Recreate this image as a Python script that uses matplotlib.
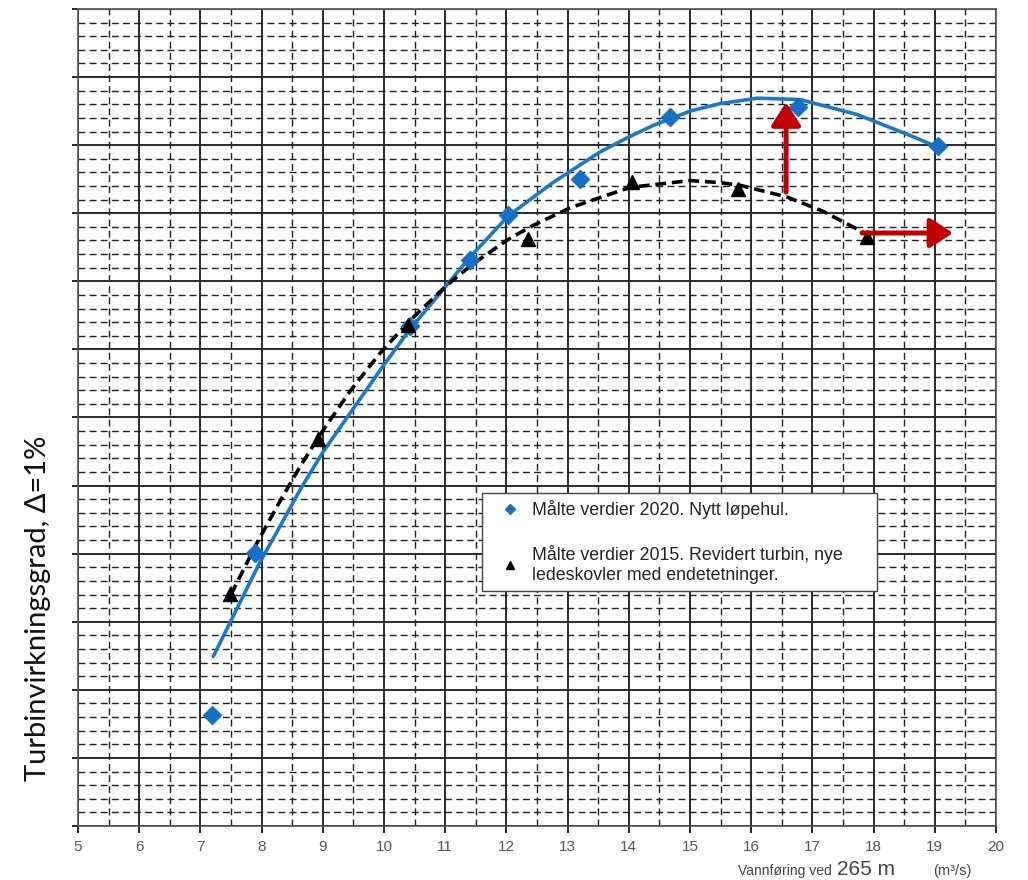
import matplotlib
matplotlib.use("Agg")
import matplotlib.pyplot as plt
from matplotlib.lines import Line2D
import numpy as np

# Målte verdier 2020 (blå)
blue_x = [7.19, 7.89, 10.42, 11.4, 12.03, 13.2, 14.67, 16.76, 19.05]
blue_y = [1.63, 4.01, 7.34, 8.32, 8.97, 9.51, 10.41, 10.56, 9.99]

# Målte verdier 2015 (svart)
black_x = [7.48, 8.92, 10.4, 12.35, 14.05, 15.78, 17.89]
black_y = [3.41, 5.68, 7.36, 8.62, 9.46, 9.35, 8.65]

# trendlinjer lest av bildet
blue_curve_x = [7.21, 7.53, 7.97, 8.3, 8.63, 9.0, 9.49, 9.98, 10.42, 11.4, 12.03,
                12.76, 13.53, 14.0, 14.4, 15.0, 15.49, 16.1, 16.8, 17.73, 18.55, 19.05]
blue_curve_y = [2.49, 3.07, 3.87, 4.4, 4.94, 5.49, 6.12, 6.75, 7.29, 8.35, 8.96,
                9.45, 9.9, 10.12, 10.29, 10.5, 10.61, 10.69, 10.67, 10.45, 10.16, 9.97]
black_curve_x = [7.5, 7.92, 8.3, 8.63, 8.95, 9.44, 9.93, 10.42, 11.0, 11.4, 12.0,
                 12.39, 13.04, 14.02, 15.0, 15.49, 15.82, 16.58, 17.17, 17.83]
black_curve_y = [3.4, 4.15, 4.77, 5.28, 5.74, 6.38, 6.94, 7.42, 7.92, 8.22, 8.6,
                 8.8, 9.08, 9.38, 9.48, 9.45, 9.41, 9.24, 9.03, 8.72]

# røde piler (hale, spiss)
arrow_up = ((16.57, 9.31), (16.57, 10.63))
arrow_right = ((17.81, 8.71), (19.3, 8.71))

x_ticks = list(range(5, 21))

W, H = 1028, 880
fig = plt.figure(figsize=(W / 100, H / 100), dpi=100)
ax = fig.add_axes([78 / W, 1 - 826 / H, 918 / W, 817 / H])

ax.set_xlim(5, 20)
ax.set_ylim(0, 12)
ax.set_xticks(x_ticks)
ax.set_xticks(np.arange(5.5, 20, 1.0), minor=True)
ax.set_yticks(range(0, 13))
ax.set_yticks(np.arange(0, 12.01, 0.2), minor=True)
ax.set_yticklabels([])
ax.tick_params(axis='x', which='major', direction='out', length=5, width=1.2,
               labelsize=11, labelcolor='#555555', pad=5)
ax.tick_params(axis='y', which='major', direction='out', length=4, width=1.2)
ax.tick_params(which='minor', length=0)
for lbl in ax.get_xticklabels():
    lbl.set_family('Liberation Sans')

ax.set_axisbelow(True)
ax.grid(which='major', color='#2a2a2a', lw=1.4, ls='-')
ax.grid(which='minor', color='#222222', lw=1.0, ls=(0, (5, 3)))
for s in ax.spines.values():
    s.set_color('#555555')
    s.set_linewidth(1.2)

# trendlinjer
ax.plot(blue_curve_x, blue_curve_y, color='#1a78d0', lw=2.6, solid_capstyle='round',
        solid_joinstyle='round', zorder=3)
ax.plot(black_curve_x, black_curve_y, color='black', lw=2.6, ls=(0, (3, 1.6)), zorder=3)

# målepunkter
ax.plot(blue_x, blue_y, ls='none', marker='D', ms=9, color='#1670c8', zorder=4)
ax.plot(black_x, black_y, ls='none', marker='^', ms=10, color='black', zorder=4)

# piler
for tail, tip in (arrow_up, arrow_right):
    ax.annotate('', xy=tip, xytext=tail,
                arrowprops=dict(arrowstyle='-|>,head_length=0.7,head_width=0.45',
                                mutation_scale=20, lw=3.6, color='#c00000',
                                shrinkA=0, shrinkB=0),
                zorder=5)

# legende
handles = [
    Line2D([], [], ls='none', marker='D', ms=5, color='#1670c8'),
    Line2D([], [], ls='none', marker='^', ms=6, color='black'),
]
labels = ['Målte verdier 2020. Nytt løpehul.',
          'Målte verdier 2015. Revidert turbin, nye\nledeskovler med endetetninger.']
leg = ax.legend(handles, labels, loc='upper left',
                bbox_to_anchor=(0.44, 0.278, 0.43, 0.13), mode='expand',
                fancybox=False, framealpha=1, edgecolor='#444444',
                prop={'family': 'Liberation Sans', 'size': 12.8},
                handlelength=2.4, handletextpad=0.0, labelspacing=1.5,
                borderpad=0.4, borderaxespad=0)
leg.get_frame().set_linewidth(1.0)
for t in leg.get_texts():
    t.set_color('#222222')

# aksetitler
ax.text(-0.044, 0.267, 'Turbinvirkningsgrad, Δ=1%', transform=ax.transAxes,
        rotation=90, ha='center', va='center', fontsize=21, family='Lato', color='#111111')

fig.text(738 / W, 1 - 875 / H, 'Vannføring ved', fontsize=10, family='Liberation Sans',
         color='#444444', ha='left', va='baseline')
fig.text(837 / W, 1 - 875 / H, '265 m', fontsize=15, family='Liberation Sans',
         color='#444444', ha='left', va='baseline')
fig.text(933 / W, 1 - 875 / H, '(m³/s)', fontsize=10.5, family='Liberation Sans',
         color='#444444', ha='left', va='baseline')

fig.savefig('out.png', dpi=100)
